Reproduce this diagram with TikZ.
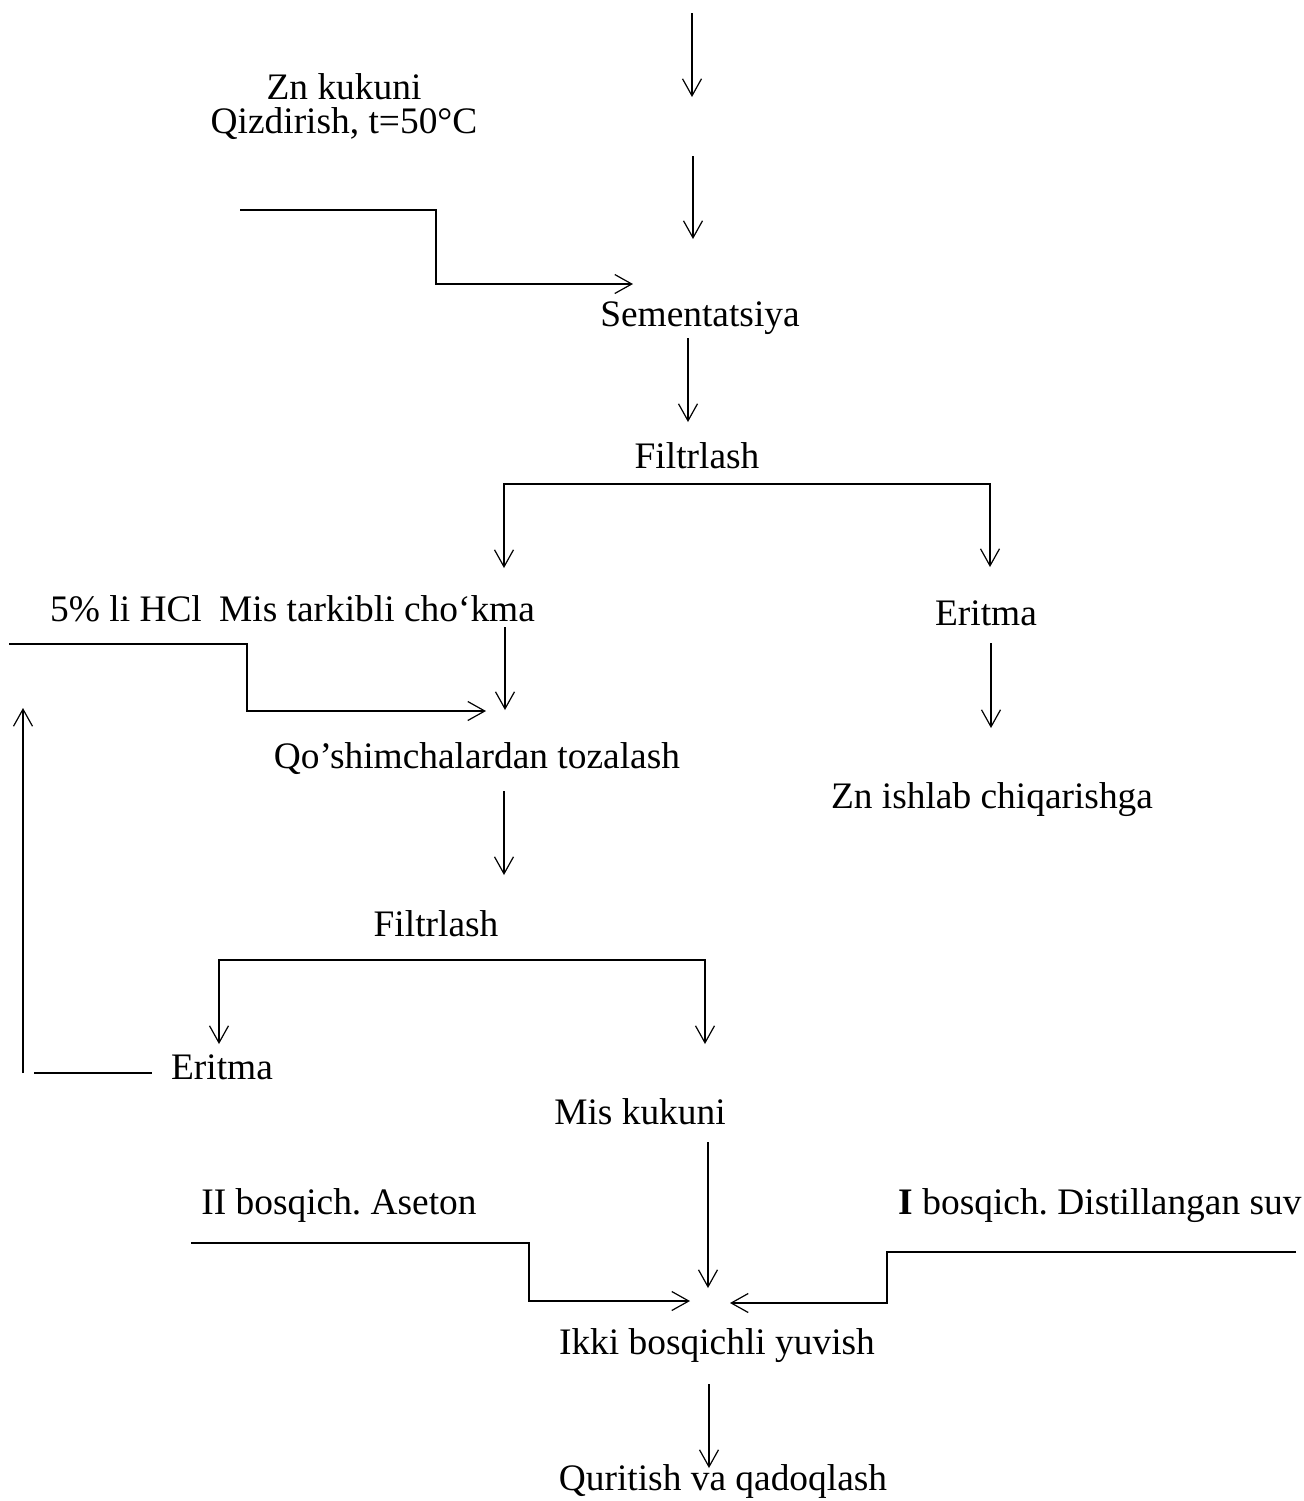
\documentclass[tikz,border=0pt]{standalone}
\usepackage{fontspec}
\setmainfont{Liberation Serif}
\usepackage{tikz}
\usetikzlibrary{arrows.meta}
\frenchspacing

\begin{document}
\begin{tikzpicture}[x=0.5pt,y=-0.5pt,>={Straight Barb[length=8.5pt,width=9.5pt]},
    lbl/.style={anchor=base,inner sep=0pt,font=\fontsize{18.7}{22}\selectfont},
    flow/.style={line width=0.6pt,->},
    pipe/.style={line width=0.6pt}]
  \useasboundingbox (0,0) rectangle (1303,1501);

  % labels
  \node[lbl] (zn)    at (344,99)   {Zn kukuni};
  \node[lbl] (heat)  at (344,133)  {Qizdirish, t=50°C};
  \node[lbl] (sem)   at (700,326)  {Sementatsiya};
  \node[lbl] (filt)  at (697,468)  {Filtrlash};
  \node[lbl] (hcl)   at (126,621)  {5\% li HCl};
  \node[lbl] (cake)  at (377,621)  {Mis tarkibli cho‘kma};
  \node[lbl] (sol)   at (986,625)  {Eritma};
  \node[lbl] (znout) at (992,808)  {Zn ishlab chiqarishga};
  \node[lbl] (clean) at (477,768)  {Qo’shimchalardan tozalash};
  \node[lbl] (filtb) at (436,936)  {Filtrlash};
  \node[lbl] (solb)  at (222,1079) {Eritma};
  \node[lbl] (cu)    at (640,1124) {Mis kukuni};
  \node[lbl] (acet)  at (339,1214) {II bosqich. Aseton};
  \node[lbl] (water) at (1100,1214) {\textbf{I} bosqich. Distillangan suv};
  \node[lbl] (wash)  at (717,1354) {Ikki bosqichli yuvish};
  \node[lbl] (dry)   at (723,1490) {Quritish va qadoqlash};

  % arrow ends
  \coordinate (in0) at (692,13);   \coordinate (in1) at (692,97);
  \coordinate (in2) at (693,156);  \coordinate (in3) at (693,239);
  \coordinate (znA) at (240,210);  \coordinate (znB) at (436,284);
  \coordinate (znC) at (633,284);
  \coordinate (s0) at (688,338);   \coordinate (s1) at (688,422);
  \coordinate (fL) at (504,568);   \coordinate (fM) at (504,484);
  \coordinate (fR) at (990,567);
  \coordinate (e0) at (991,643);   \coordinate (e1) at (991,728);
  \coordinate (c0) at (505,627);   \coordinate (c1) at (505,710);
  \coordinate (hA) at (9,644);     \coordinate (hB) at (247,711);
  \coordinate (hC) at (486,711);
  \coordinate (q0) at (504,791);   \coordinate (q1) at (504,875);
  \coordinate (gL) at (219,1044);  \coordinate (gM) at (219,960);
  \coordinate (gR) at (705,1044);
  \coordinate (bA) at (34,1073);   \coordinate (bB) at (152,1073);
  \coordinate (r0) at (23,1073);   \coordinate (r1) at (23,708);
  \coordinate (m0) at (708,1142);  \coordinate (m1) at (708,1288);
  \coordinate (aA) at (191,1243);  \coordinate (aB) at (529,1301);
  \coordinate (aC) at (690,1301);
  \coordinate (wA) at (1296,1252); \coordinate (wB) at (887,1303);
  \coordinate (wC) at (730,1303);
  \coordinate (k0) at (709,1384);  \coordinate (k1) at (709,1468);

  % main line
  \draw[flow] (in0) -- (in1);
  \draw[flow] (in2) -- (in3);
  \draw[flow] (znA) -| (znB) -- (znC);
  \draw[flow] (s0) -- (s1);
  \draw[flow,<->] (fL) -- (fM) -| (fR);
  \draw[flow] (e0) -- (e1);
  \draw[flow] (c0) -- (c1);
  \draw[flow] (hA) -| (hB) -- (hC);
  \draw[flow] (q0) -- (q1);
  \draw[flow,<->] (gL) -- (gM) -| (gR);

  % return of the solution
  \draw[pipe] (bA) -- (bB);
  \draw[flow] (r0) -- (r1);

  % washing
  \draw[flow] (m0) -- (m1);
  \draw[flow] (aA) -| (aB) -- (aC);
  \draw[flow] (wA) -| (wB) -- (wC);
  \draw[flow] (k0) -- (k1);
\end{tikzpicture}
\end{document}
